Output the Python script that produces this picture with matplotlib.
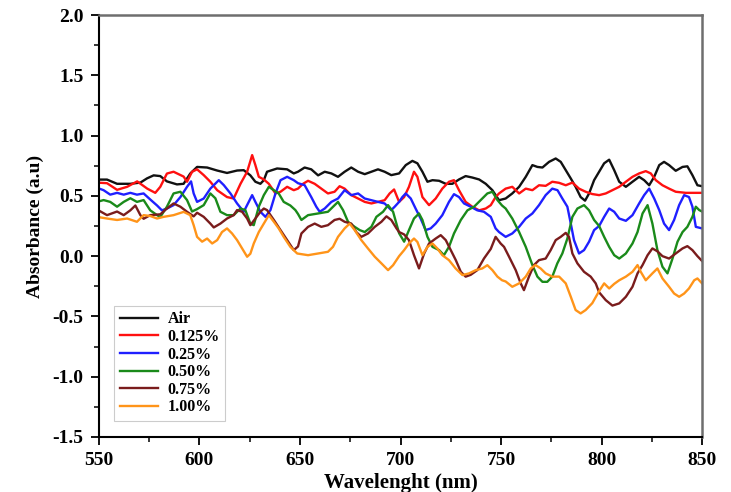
import matplotlib
matplotlib.use("Agg")
import matplotlib.pyplot as plt
from matplotlib.ticker import MultipleLocator

plt.rcParams['font.family'] = ['Liberation Serif', 'DejaVu Serif']
plt.rcParams['font.weight'] = 'bold'

labels = ["Air", "0.125%", "0.25%", "0.50%", "0.75%", "1.00%"]
colors = ["#111111", "#ff1010", "#1f1fff", "#1a8a1a", "#7a1c1c", "#ff9419"]

air_wl = [549, 554, 559, 565.6, 570.6, 573.9, 577.2, 580.5, 583.8, 588.8, 592.1, 595.4,
          598.8, 603.8, 608.8, 613.7, 618.7, 622.0, 625.3, 627.8, 630.3, 632.0, 633.6, 638.6, 643.6, 646.9,
          649, 652.3, 655.6, 659, 662.3, 665.6, 668.9, 672.2, 675.5, 678.9, 682.2, 685.5, 688.8, 692.1, 695.4,
          699.3, 702.6, 705.9, 708.4, 710.9, 713.4, 715.9, 719.2, 722.5, 725.8, 729.1, 732.4, 735.7, 739.1, 742.4, 745.7,
          749, 752.3, 755.6, 759, 762.3, 765.6, 768.1, 770.6, 773.9, 777.2, 779.7, 782.2, 784.7, 787.1, 789.6, 791.8, 793.8, 796.3,
          798.8, 801.3, 803.8, 806.3, 808.8, 812.1, 815.4, 818.7, 821.2, 823.7, 826.2, 828.7, 831.1, 833.6, 836.9, 840.3, 842.7, 845.2, 847.7, 850]
air_val = [0.635, 0.635, 0.60, 0.60, 0.61, 0.645, 0.67, 0.664, 0.62, 0.595, 0.60, 0.685,
           0.74, 0.735, 0.71, 0.69, 0.71, 0.713, 0.67, 0.617, 0.60, 0.63, 0.70, 0.727, 0.72, 0.686,
           0.70, 0.735, 0.72, 0.67, 0.70, 0.686, 0.658, 0.70, 0.735, 0.70, 0.68, 0.70, 0.72, 0.70, 0.672,
           0.686, 0.755, 0.79, 0.77, 0.70, 0.617, 0.63, 0.625, 0.60, 0.60, 0.636, 0.664, 0.652, 0.636, 0.60, 0.547,
           0.464, 0.478, 0.52, 0.575, 0.658, 0.755, 0.74, 0.735, 0.782, 0.81, 0.782, 0.713, 0.644, 0.575, 0.49, 0.46, 0.52, 0.63,
           0.70, 0.77, 0.80, 0.713, 0.617, 0.575, 0.617, 0.658, 0.63, 0.588, 0.658, 0.755, 0.782, 0.755, 0.708, 0.74, 0.745, 0.672, 0.588, 0.58]

c0125_wl = [549, 554, 559, 564, 569, 574, 578, 580.5, 583.8, 587.1, 592.1, 593.8, 596.3,
            598.8, 602.1, 605.4, 608.8, 613.7, 617.0, 620.4, 623.7, 626.2, 627.8, 629.5, 632.0, 634.5, 637.8, 640.3, 643.6, 646.9,
            649, 651.5, 654, 657.3, 660.6, 663.9, 667.2, 669.7, 672.2, 675.5, 678.9, 682.2, 685.5, 688.8, 692.1, 694.6, 696.8,
            699.3, 701.8, 704.2, 706.7, 708.4, 710.9, 714.2, 717.5, 720.8, 724.1, 726.6, 729.1, 732.4, 735.7, 739.1, 742.4, 744.9, 747.3,
            749, 752.3, 755.6, 759, 762.3, 765.6, 768.9, 772.2, 775.5, 778.9, 782.2, 785.5, 788.8, 792.1, 795.4,
            798.8, 802.1, 805.4, 808.8, 812.1, 815.4, 818.7, 822.0, 824.5, 827.0, 830.3, 833.6, 836.9, 841.9, 850]
c0125_val = [0.61, 0.605, 0.55, 0.575, 0.62, 0.56, 0.525, 0.575, 0.685, 0.70, 0.66, 0.617, 0.70,
             0.72, 0.672, 0.617, 0.547, 0.49, 0.478, 0.60, 0.70, 0.838, 0.755, 0.658, 0.636, 0.60, 0.52, 0.534, 0.575, 0.547,
             0.56, 0.60, 0.625, 0.60, 0.56, 0.52, 0.534, 0.58, 0.56, 0.506, 0.478, 0.45, 0.437, 0.45, 0.464, 0.52, 0.553,
             0.45, 0.49, 0.575, 0.70, 0.658, 0.49, 0.423, 0.478, 0.56, 0.617, 0.63, 0.547, 0.45, 0.41, 0.38, 0.395, 0.423, 0.49,
             0.52, 0.56, 0.575, 0.52, 0.56, 0.547, 0.588, 0.583, 0.617, 0.608, 0.588, 0.61, 0.56, 0.534, 0.515,
             0.506, 0.52, 0.547, 0.575, 0.617, 0.658, 0.686, 0.705, 0.686, 0.63, 0.588, 0.56, 0.534, 0.525, 0.525]

c025_wl = [549, 552.3, 555.6, 559, 562.3, 565.6, 568.9, 572.2, 575.5, 578.9, 581.3, 583.8, 587.1, 590.5, 593.8, 595.8, 597.1,
           598.8, 602.1, 605.4, 609.6, 612.1, 615.4, 618.7, 622.0, 624.5, 626.2, 627.8, 630.3, 632.8, 635.3, 637.8, 640.3, 643.6, 646.9,
           649, 652.3, 655.6, 658.1, 659.8, 662.3, 665.6, 668.9, 672.2, 675.5, 678.9, 682.2, 685.5, 688.8, 692.1, 695.4, 697.1,
           699.3, 700.9, 702.6, 705.1, 707.5, 710.0, 712.5, 715.0, 717.5, 720.8, 724.1, 726.6, 729.1, 731.6, 734.9, 738.2, 741.5, 744.9, 747.3,
           749, 752.3, 755.6, 759, 762.3, 765.6, 768.9, 772.2, 775.5, 778.1, 780.5, 783.0, 784.7, 786.3, 788.8, 791.3, 793.8, 796.3,
           798.8, 801.3, 803.8, 806.3, 808.8, 812.1, 815.4, 818.7, 821.2, 823.7, 826.2, 828.7, 831.1, 833.6, 836.1, 838.6, 841.1, 843.5, 845.2, 846.9, 850]
c025_val = [0.567, 0.547, 0.51, 0.525, 0.51, 0.525, 0.51, 0.52, 0.47, 0.42, 0.38, 0.395, 0.423, 0.49, 0.575, 0.62, 0.52,
            0.45, 0.478, 0.56, 0.63, 0.589, 0.52, 0.437, 0.368, 0.45, 0.506, 0.45, 0.368, 0.326, 0.382, 0.52, 0.63, 0.658, 0.63,
            0.605, 0.589, 0.49, 0.41, 0.368, 0.395, 0.45, 0.478, 0.547, 0.506, 0.52, 0.478, 0.464, 0.45, 0.437, 0.382, 0.41,
            0.45, 0.49, 0.52, 0.478, 0.395, 0.312, 0.216, 0.23, 0.27, 0.34, 0.45, 0.514, 0.49, 0.437, 0.41, 0.38, 0.368, 0.326, 0.23,
            0.2, 0.16, 0.188, 0.243, 0.312, 0.354, 0.423, 0.506, 0.56, 0.547, 0.478, 0.41, 0.27, 0.133, 0.022, 0.05, 0.12, 0.216,
            0.25, 0.326, 0.395, 0.368, 0.312, 0.293, 0.34, 0.437, 0.506, 0.56, 0.478, 0.382, 0.27, 0.216, 0.30, 0.423, 0.506, 0.49, 0.41, 0.243, 0.23]

c050_wl = [549, 552.3, 555.6, 559, 562.3, 565.6, 568.9, 572.2, 575.5, 578.9, 580.5, 583.8, 587.1, 590.5, 593.8, 596.3,
           598.8, 602.1, 605.4, 607.9, 610.4, 613.7, 617.0, 620.4, 622.8, 625.3, 627.0, 629.5, 632.0, 634.5, 637.0, 639.4, 641.9, 645.2, 647.7,
           649, 650.7, 654, 659, 663.9, 668.9, 671.4, 673.9, 677.2, 679.7, 682.2, 685.5, 688.0, 691.3, 693.8, 696.3,
           699.3, 701.8, 704.2, 706.7, 709.2, 710.9, 713.4, 715.9, 719.2, 721.6, 724.1, 726.6, 730.0, 733.3, 736.6, 739.9, 743.2, 745.7, 748.2,
           750.5, 752.3, 755.6, 759, 762.3, 765.6, 768.1, 770.6, 773.0, 775.5, 778.0, 780.5, 783.0, 785.5, 788.0, 791.3, 793.8, 796.3,
           798.8, 801.3, 803.8, 806.3, 808.8, 812.1, 815.4, 817.9, 820.4, 822.9, 825.3, 827.8, 830.3, 832.8, 835.3, 837.8, 840.3, 842.7, 845.2, 846.9, 848.6, 850]
c050_val = [0.45, 0.465, 0.45, 0.41, 0.45, 0.48, 0.45, 0.465, 0.38, 0.34, 0.325, 0.41, 0.52, 0.534, 0.465, 0.37,
            0.39, 0.423, 0.52, 0.48, 0.368, 0.34, 0.34, 0.395, 0.382, 0.27, 0.257, 0.41, 0.506, 0.575, 0.547, 0.52, 0.45, 0.42, 0.382,
            0.35, 0.30, 0.34, 0.354, 0.368, 0.45, 0.382, 0.285, 0.243, 0.216, 0.2, 0.243, 0.326, 0.368, 0.423, 0.368,
            0.19, 0.12, 0.216, 0.312, 0.354, 0.30, 0.16, 0.077, 0.05, 0.008, 0.077, 0.188, 0.30, 0.38, 0.41, 0.465, 0.52, 0.534, 0.465,
            0.42, 0.395, 0.312, 0.2, 0.077, -0.074, -0.17, -0.213, -0.213, -0.17, -0.06, 0.022, 0.146, 0.326, 0.395, 0.423, 0.38, 0.30,
            0.25, 0.16, 0.077, 0.008, -0.02, 0.022, 0.105, 0.2, 0.354, 0.423, 0.27, 0.05, -0.088, -0.143, -0.02, 0.12, 0.2, 0.243, 0.326, 0.41, 0.382, 0.37]

c075_wl = [549, 554, 559, 562.3, 565.6, 568.1, 570.6, 572.2, 575.5, 580.5, 583.8, 587.1, 590.5, 593.8, 597.1,
           598.8, 602.1, 605.4, 607.1, 610.4, 613.7, 617.0, 618.7, 621.2, 623.7, 625.3, 627.8, 630.3, 632.0, 633.6, 637.0, 640.3, 643.6, 646.9,
           649, 650.7, 654, 657.3, 660.6, 663.9, 667.2, 669.7, 672.2, 675.5, 678.0, 680.5, 683.8, 687.2, 690.5, 693.0, 695.4, 698.0,
           699.3, 701.8, 704.2, 706.7, 709.2, 711.7, 714.2, 717.5, 720.0, 722.5, 725.0, 727.5, 730.0, 732.4, 734.9, 738.2, 741.5, 744.9, 747.3, 749.8,
           751.5, 754.0, 757.3, 759.8, 761.4, 763.9, 766.4, 768.9, 772.2, 774.7, 777.2, 779.7, 782.2, 783.8, 785.5, 788.0, 791.3, 794.6, 797.1,
           798.8, 802.1, 805.4, 808.8, 812.1, 815.4, 817.9, 820.4, 822.9, 825.3, 827.8, 830.3, 833.6, 836.9, 840.3, 842.7, 845.2, 847.7, 850]
c075_val = [0.387, 0.34, 0.37, 0.34, 0.38, 0.42, 0.34, 0.31, 0.34, 0.347, 0.395, 0.437, 0.41, 0.368, 0.33,
            0.36, 0.326, 0.27, 0.238, 0.27, 0.312, 0.34, 0.382, 0.368, 0.312, 0.257, 0.312, 0.368, 0.395, 0.382, 0.30, 0.216, 0.133, 0.05,
            0.08, 0.188, 0.243, 0.27, 0.243, 0.257, 0.30, 0.31, 0.285, 0.27, 0.2, 0.16, 0.188, 0.243, 0.285, 0.33, 0.30, 0.23,
            0.2, 0.18, 0.133, 0.008, -0.102, 0.02, 0.105, 0.146, 0.174, 0.133, 0.05, -0.033, -0.13, -0.17, -0.155, -0.116, -0.02, 0.06, 0.16, 0.105,
            0.077, -0.005, -0.116, -0.226, -0.282, -0.17, -0.074, -0.033, -0.02, 0.05, 0.133, 0.16, 0.193, 0.16, 0.022, -0.06, -0.13, -0.17, -0.226,
            -0.30, -0.365, -0.41, -0.392, -0.337, -0.254, -0.143, -0.074, 0.008, 0.064, 0.04, 0.0, -0.02, 0.022, 0.064, 0.083, 0.05, 0.0, -0.04]

c100_wl = [549, 554, 559, 564, 568.9, 572.2, 575.5, 578.9, 582.2, 587.1, 592.1, 595.4, 597.1,
           598.8, 601.3, 603.8, 606.3, 608.8, 611.2, 613.7, 616.2, 618.7, 621.2, 623.7, 625.3, 627.0, 629.5, 632.0, 634.5, 637.0, 639.4, 641.9, 645.2, 648.6,
           654, 659, 663.9, 666.4, 668.9, 672.2, 674.7, 677.2, 680.5, 683.8, 687.2, 690.5, 693.8, 696.3,
           699.3, 701.8, 704.2, 706.7, 708.4, 710.9, 713.4, 715.9, 718.3, 720.8, 724.1, 727.4, 730.8, 734.1, 737.4, 740.7, 743.2, 745.7, 748.2,
           750.5, 752.3, 755.6, 759, 762.3, 764.8, 767.2, 769.7, 772.2, 775.5, 778.9, 782.2, 784.7, 787.1, 789.6, 792.1, 795.4,
           798.8, 801.3, 803.8, 806.3, 808.8, 812.1, 815.4, 817.9, 819.5, 822.0, 825.3, 827.8, 830.3, 833.6, 836.1, 838.6, 841.1, 843.5, 846.1, 847.7, 850]
c100_val = [0.326, 0.312, 0.30, 0.312, 0.285, 0.34, 0.333, 0.312, 0.326, 0.34, 0.367, 0.34, 0.257,
            0.16, 0.12, 0.146, 0.105, 0.133, 0.2, 0.23, 0.188, 0.133, 0.064, -0.005, 0.02, 0.105, 0.2, 0.27, 0.34, 0.285, 0.23, 0.16, 0.077, 0.022,
            0.008, 0.022, 0.036, 0.077, 0.16, 0.23, 0.27, 0.216, 0.133, 0.064, -0.005, -0.06, -0.116, -0.075,
            0.0, 0.05, 0.105, 0.146, 0.118, 0.008, 0.077, 0.105, 0.064, 0.008, -0.033, -0.102, -0.157, -0.143, -0.116, -0.102, -0.075, -0.116, -0.17,
            -0.2, -0.21, -0.254, -0.226, -0.17, -0.102, -0.074, -0.102, -0.143, -0.17, -0.17, -0.226, -0.337, -0.447, -0.475, -0.447, -0.39,
            -0.29, -0.226, -0.268, -0.23, -0.2, -0.17, -0.13, -0.074, -0.13, -0.2, -0.143, -0.102, -0.185, -0.254, -0.31, -0.337, -0.31, -0.268, -0.2, -0.185, -0.226]

series_wl = [air_wl, c0125_wl, c025_wl, c050_wl, c075_wl, c100_wl]
series_val = [air_val, c0125_val, c025_val, c050_val, c075_val, c100_val]

x_ticks = [550, 600, 650, 700, 750, 800, 850]
y_ticks = [-1.5, -1.0, -0.5, 0.0, 0.5, 1.0, 1.5, 2.0]

fig = plt.figure(figsize=(7.31, 4.92), dpi=100)
ax = fig.add_axes([0.1354, 0.1118, 0.825, 0.8577])

for wl, val, lab, col in zip(series_wl, series_val, labels, colors):
    ax.plot(wl, val, color=col, lw=1.7, label=lab)

ax.set_xlim(550, 850)
ax.set_ylim(-1.5, 2.0)
ax.set_xticks(x_ticks)
ax.set_yticks(y_ticks)
ax.set_yticklabels([f"{v:.1f}" for v in y_ticks])
ax.xaxis.set_minor_locator(MultipleLocator(25))
ax.yaxis.set_minor_locator(MultipleLocator(0.25))
ax.tick_params(which='major', direction='out', length=6, width=1.3, labelsize=14, pad=5)
ax.tick_params(which='minor', direction='out', length=3.5, width=1.1)
ax.tick_params(top=False, right=False)
for lbl in ax.get_xticklabels() + ax.get_yticklabels():
    lbl.set_fontweight('bold')

for s in ['left', 'bottom']:
    ax.spines[s].set_color('black')
    ax.spines[s].set_linewidth(1.5)
for s in ['top', 'right']:
    ax.spines[s].set_color('#6e6e6e')
    ax.spines[s].set_linewidth(1.8)

ax.set_xlabel("Wavelenght (nm)", fontsize=15, fontweight='bold', labelpad=3)
ax.set_ylabel("Absorbance (a.u)", fontsize=14, fontweight='bold', labelpad=6)

leg = ax.legend(loc='lower left', bbox_to_anchor=(0.025, 0.038), borderaxespad=0,
                fancybox=False, framealpha=1, edgecolor='#cccccc',
                prop={'family': 'Liberation Serif', 'weight': 'bold', 'size': 11.5},
                handlelength=2.4, labelspacing=0.1, borderpad=0.35, handletextpad=0.6)
leg.get_frame().set_linewidth(0.8)

fig.savefig("out.png", dpi=100)
